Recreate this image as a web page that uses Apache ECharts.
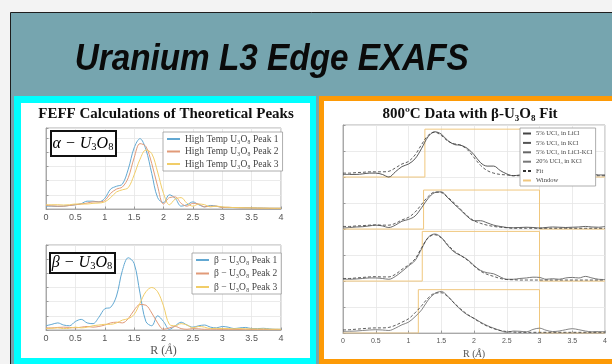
<!DOCTYPE html>
<html><head><meta charset="utf-8">
<script src="https://cdn.jsdelivr.net/npm/echarts@6/dist/echarts.min.js"></script>
<style>html,body{margin:0;padding:0;background:#f3f3f3}#c{width:612px;height:364px}</style>
</head><body><div id="c"></div>
<script>
// Shared R axis (Å)
const R = [0,0.1,0.2,0.3,0.4,0.5,0.6,0.7,0.8,0.9,1.0,1.1,1.2,1.3,1.4,1.5,1.6,1.7,1.8,1.9,2.0,2.1,2.2,2.3,2.4,2.5,2.6,2.7,2.8,2.9,3.0,3.1,3.2,3.3,3.4,3.5,3.6,3.7,3.8,3.9,4.0];

// alpha-U3O8 FEFF peaks
const alphaNames = ['High Temp U₃O₈ Peak 1','High Temp U₃O₈ Peak 2','High Temp U₃O₈ Peak 3'];
const alpha1 = [0.2,0.2,0.18,0.2,0.25,0.3,0.38,0.55,0.55,0.5,0.75,1.4,1.6,1.75,2.8,4.3,4.95,4.2,2.5,0.8,0.45,1.0,0.75,0.2,0.3,0.5,0.3,0.15,0.25,0.2,0.12,0.1,0.1,0.09,0.08,0.08,0.07,0.06,0.05,0.05,0.05];
const alpha2 = [0.25,0.22,0.2,0.2,0.25,0.3,0.35,0.42,0.5,0.5,0.6,1.1,1.4,1.55,2.2,3.6,4.6,4.4,3.2,1.6,0.35,0.8,0.85,0.4,0.2,0.4,0.35,0.15,0.2,0.2,0.1,0.12,0.1,0.08,0.08,0.07,0.06,0.06,0.05,0.05,0.05];
const alpha3 = [0.3,0.3,0.3,0.28,0.3,0.35,0.35,0.35,0.4,0.42,0.5,0.8,1.2,1.35,1.5,2.4,3.5,4.15,3.9,2.6,1.1,0.3,0.7,0.8,0.4,0.2,0.35,0.3,0.15,0.2,0.15,0.12,0.1,0.1,0.08,0.08,0.07,0.06,0.06,0.05,0.05];

// beta-U3O8 FEFF peaks
const betaNames = ['β − U₃O₈ Peak 1','β − U₃O₈ Peak 2','β − U₃O₈ Peak 3'];
const beta1 = [0.3,0.4,0.5,0.35,0.3,0.6,0.75,0.5,0.45,0.9,1.5,1.6,2.4,4.2,5.1,4.7,2.6,0.6,0.3,1.0,0.6,0.05,0.3,0.55,0.35,0.2,0.3,0.35,0.2,0.15,0.25,0.2,0.1,0.15,0.18,0.1,0.1,0.12,0.08,0.05,0.05];
const beta2 = [0.15,0.15,0.18,0.2,0.18,0.15,0.2,0.25,0.2,0.25,0.35,0.5,0.55,0.5,0.8,1.4,1.8,1.75,1.2,0.5,0.05,0.15,0.25,0.1,0.05,0.1,0.08,0.05,0.06,0.05,0.05,0.05,0.04,0.04,0.05,0.04,0.04,0.04,0.03,0.03,0.03];
const beta3 = [0.1,0.12,0.15,0.1,0.12,0.2,0.15,0.2,0.3,0.35,0.4,0.4,0.5,0.7,0.8,1.1,1.9,2.7,3.0,2.7,1.7,0.4,0.3,0.45,0.35,0.15,0.25,0.2,0.1,0.12,0.1,0.1,0.08,0.1,0.08,0.08,0.07,0.08,0.06,0.06,0.05];

// 800C data (stacked offsets) with fits
const dataNames = ['5% UCl₃ in LiCl','5% UCl₃ in KCl','5% UCl₃ in LiCl-KCl','20% UCl₃ in KCl'];
const d1 = [6.1,6.1,6.1,6.12,6.15,6.15,6.1,6.0,6.2,6.4,6.5,6.7,7.1,7.55,7.74,7.65,7.4,7.25,7.22,7.1,6.86,6.55,6.42,6.42,6.25,6.12,6.05,6.08,6.1,6.08,6.12,6.1,6.08,6.1,6.12,6.1,6.08,6.1,6.1,6.08,6.08];
const f1 = [6.15,6.15,6.17,6.18,6.2,6.2,6.2,6.22,6.35,6.5,6.6,6.85,7.25,7.6,7.72,7.6,7.38,7.28,7.22,7.05,6.75,6.45,6.25,6.15,6.1,6.08,6.05,6.05,6.05,6.05,6.05,6.05,6.05,6.05,6.05,6.05,6.05,6.05,6.05,6.05,6.05];
const d2 = [4.04,4.06,4.08,4.09,4.12,4.15,4.12,4.06,4.15,4.3,4.37,4.5,4.82,5.18,5.4,5.43,5.2,4.95,4.72,4.48,4.32,4.32,4.24,4.15,4.1,4.06,4.05,4.06,4.07,4.06,4.04,4.06,4.08,4.07,4.06,4.07,4.08,4.1,4.08,4.07,4.1];
const f2 = [4.1,4.1,4.12,4.13,4.15,4.16,4.15,4.15,4.22,4.35,4.45,4.65,4.95,5.25,5.42,5.4,5.22,5.0,4.75,4.5,4.32,4.22,4.15,4.1,4.07,4.05,4.03,4.03,4.03,4.03,4.03,4.03,4.03,4.03,4.03,4.03,4.03,4.03,4.03,4.03,4.03];
const d3 = [2.07,2.07,2.08,2.1,2.12,2.12,2.1,2.07,2.18,2.37,2.58,2.79,3.24,3.68,3.81,3.68,3.36,3.11,2.98,2.83,2.6,2.41,2.32,2.28,2.16,2.07,2.07,2.1,2.12,2.15,2.14,2.07,2.09,2.07,2.12,2.14,2.12,2.18,2.12,2.07,2.06];
const f3 = [2.1,2.1,2.12,2.14,2.16,2.17,2.16,2.16,2.26,2.45,2.62,2.85,3.28,3.66,3.78,3.66,3.4,3.15,2.98,2.8,2.58,2.38,2.26,2.18,2.1,2.06,2.05,2.04,2.04,2.04,2.04,2.04,2.04,2.04,2.04,2.04,2.04,2.04,2.04,2.04,2.04];
const d4 = [0.06,0.07,0.08,0.1,0.12,0.13,0.12,0.1,0.19,0.32,0.42,0.63,0.89,1.27,1.52,1.6,1.42,1.14,0.89,0.7,0.57,0.42,0.29,0.19,0.1,0.03,0.08,0.07,0.05,0.14,0.19,0.11,0.06,0.08,0.13,0.17,0.13,0.08,0.05,0.06,0.06];
const f4 = [0.12,0.13,0.15,0.17,0.19,0.2,0.2,0.22,0.3,0.42,0.55,0.78,1.05,1.35,1.53,1.55,1.4,1.15,0.92,0.72,0.56,0.4,0.27,0.17,0.1,0.06,0.04,0.03,0.03,0.03,0.03,0.03,0.03,0.03,0.03,0.03,0.03,0.03,0.03,0.03,0.03];

// Fit windows
const winStart = [1.25,1.23,1.21,1.15];
const winEnd   = [3.0,3.0,3.0,3.0];
const winBase  = [6,4,2,0];
const winTop   = [7.84,5.5,3.91,1.67];

const zip = ys => R.map((r,i)=>[r,ys[i]]);
const winData = i => [[0,winBase[i]],[winStart[i],winBase[i]],[winStart[i],winTop[i]],[winEnd[i],winTop[i]],[winEnd[i],winBase[i]],[4,winBase[i]]];

const leftCols = ['#62a8d2','#e19a78','#f1cd68'];
const dataCols = ['#444','#555','#666','#777'];
const winCol = '#f0c77e';
const gridLine = {show:true, lineStyle:{color:'#e6e6e6', width:0.8}};

function xAx(gi, fs, name) {
  const nfs = gi===2?10:12;
  return {type:'value', gridIndex:gi, min:0, max:4, interval:0.5,
    axisLine:{show:true, lineStyle:{color:'#9a9a9a', width:0.8}},
    axisTick:{show:true, inside:true, length:2.5, lineStyle:{color:'#9a9a9a'}},
    axisLabel:{color:'#555', fontSize:fs, fontFamily:'Liberation Sans', margin:4},
    splitLine:gridLine,
    name: name || '', nameLocation:'middle', nameGap: 15,
    nameTextStyle: name ? {rich:{r:{fontFamily:'Liberation Serif', fontSize:nfs, color:'#555'}, i:{fontFamily:'Liberation Serif', fontStyle:'italic', fontSize:nfs, color:'#555'}}} : {}
  };
}
function yAx(gi, max) {
  return {type:'value', gridIndex:gi, min:0, max:max, interval:1,
    axisLine:{show:true, lineStyle:{color:'#9a9a9a', width:0.8}},
    axisTick:{show:true, inside:true, length:2.5, lineStyle:{color:'#9a9a9a'}},
    axisLabel:{show:false}, splitLine:gridLine};
}
function line(name, gi, data, color, dashed, width) {
  return {type:'line', name:name, xAxisIndex:gi, yAxisIndex:gi, data:data, symbol:'none',
    smooth:0.35, lineStyle:{color:color, width:width||1, type: dashed?[3,2]:'solid'}, itemStyle:{color:color}, z:3};
}

const series = [];
[alpha1,alpha2,alpha3].forEach((d,i)=>series.push(line(alphaNames[i],0,zip(d),leftCols[i])));
[beta1,beta2,beta3].forEach((d,i)=>series.push(line(betaNames[i],1,zip(d),leftCols[i])));
[0,1,2,3].forEach(i=>{
  const w = line('Window',2,winData(i),winCol,false,1); w.smooth=false; w.z=2; series.push(w);
});
[d1,d2,d3,d4].forEach((d,i)=>series.push(line(dataNames[i],2,zip(d),dataCols[i],false,0.9)));
[f1,f2,f3,f4].forEach(d=>series.push(line('Fit',2,zip(d),'#333',true,0.8)));

const legBase = {orient:'vertical', backgroundColor:'#fff', borderColor:'#999', borderWidth:0.8, itemStyle:{opacity:0}};
const mathRich = {
  m:{fontFamily:'Liberation Serif', fontStyle:'italic', fontSize:16, color:'#111', lineHeight:19, verticalAlign:'middle'},
  s:{fontFamily:'Liberation Serif', fontSize:10.5, color:'#111', lineHeight:10, verticalAlign:'bottom'}
};

const chart = echarts.init(document.getElementById('c'), null, {renderer:'canvas'});
chart.setOption({
  animation:false,
  backgroundColor:'#f3f3f3',
  grid:[
    {left:46, top:128, width:235, height:81, show:true, borderColor:'#9a9a9a', borderWidth:0.8, backgroundColor:'#fff'},
    {left:46, top:245, width:235, height:85, show:true, borderColor:'#9a9a9a', borderWidth:0.8, backgroundColor:'#fff'},
    {left:343, top:125, width:262, height:210, show:true, borderColor:'#9a9a9a', borderWidth:0.8, backgroundColor:'#fff'}
  ],
  xAxis:[xAx(0,9), xAx(1,9,'{r|R (}{i|Å}{r|)}'), xAx(2,7,'{r|R (}{i|Å}{r|)}')],
  yAxis:[yAx(0,5.7), yAx(1,6), yAx(2,8)],
  legend:[
    Object.assign({}, legBase, {data:alphaNames, left:163, top:132, itemWidth:13, itemHeight:8, itemGap:2.5,
     padding:[2,4,2,3], textStyle:{fontFamily:'Liberation Serif', fontSize:9.5, color:'#444'}}),
    Object.assign({}, legBase, {data:betaNames, left:192, top:253, itemWidth:13, itemHeight:8, itemGap:3.5,
     padding:[2,4,2,3], textStyle:{fontFamily:'Liberation Serif', fontSize:9.5, color:'#444'}}),
    Object.assign({}, legBase, {data:[dataNames[0],dataNames[1],dataNames[2],dataNames[3],'Fit','Window'], left:520, top:128,
     itemWidth:8, itemHeight:5, itemGap:2.4, padding:[2,3,2,2], textStyle:{fontFamily:'Liberation Serif', fontSize:6.5, color:'#444'}})
  ],
  graphic:[
    {type:'rect', z:-30, silent:true, shape:{x:10.5,y:12.5,width:620,height:360}, style:{fill:'#76a5af', stroke:'#1e1e1e', lineWidth:1}},
    {type:'rect', z:-29, silent:true, shape:{x:14,y:96,width:302,height:280}, style:{fill:'#00ffff'}},
    {type:'rect', z:-28, silent:true, shape:{x:21,y:103,width:289,height:255}, style:{fill:'#fff'}},
    {type:'rect', z:-29, silent:true, shape:{x:319,y:96,width:300,height:280}, style:{fill:'#fd9a06'}},
    {type:'rect', z:-28, silent:true, shape:{x:324,y:101,width:300,height:258}, style:{fill:'#fff'}},
    {type:'text', z:10, silent:true, x:271.7, y:60, scaleX:0.9, style:{text:'Uranium L3 Edge EXAFS', font:'italic bold 37px "Liberation Sans"', fill:'#0a0a0a', textAlign:'center', textVerticalAlign:'middle'}},
    {type:'text', z:10, silent:true, x:166, y:114, style:{text:'FEFF Calculations of Theoretical Peaks', font:'bold 15px "Liberation Serif"', fill:'#111', textAlign:'center', textVerticalAlign:'middle'}},
    {type:'text', z:10, silent:true, x:470, y:114, style:{text:'800ºC Data with β-U₃O₈ Fit', font:'bold 15px "Liberation Serif"', fill:'#111', textAlign:'center', textVerticalAlign:'middle'}},
    {type:'rect', z:50, silent:true, shape:{x:51,y:131,width:65,height:25}, style:{fill:'#fff', stroke:'#111', lineWidth:2}},
    {type:'text', z:51, silent:true, x:83, y:143.5, style:{text:'{m|α − U}{s|3}{m|O}{s|8}', rich:mathRich, textAlign:'center', textVerticalAlign:'middle'}},
    {type:'rect', z:50, silent:true, shape:{x:50,y:253,width:65,height:20}, style:{fill:'#fff', stroke:'#111', lineWidth:2}},
    {type:'text', z:51, silent:true, x:82, y:262.5, style:{text:'{m|β − U}{s|3}{m|O}{s|8}', rich:mathRich, textAlign:'center', textVerticalAlign:'middle'}}
  ],
  series:series
});
</script></body></html>
